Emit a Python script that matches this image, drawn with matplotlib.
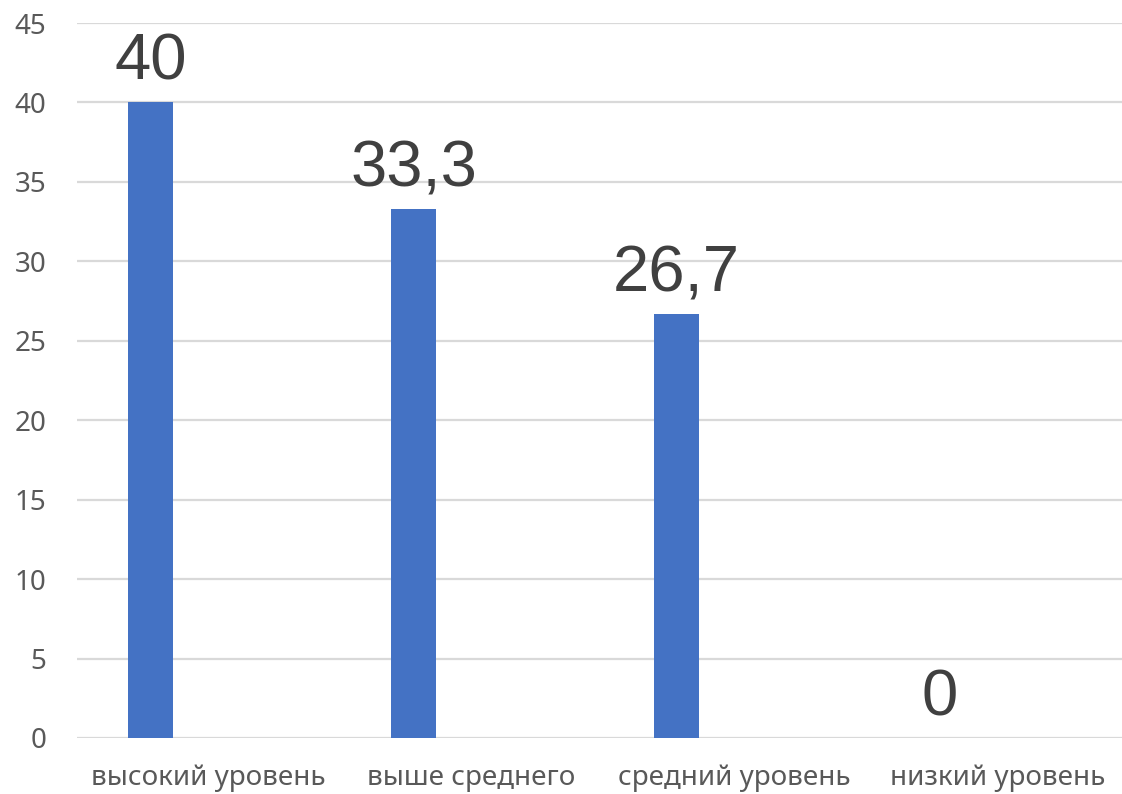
import matplotlib.pyplot as plt
import numpy as np

# Data
categories = ['высокий уровень', 'выше среднего', 'средний уровень', 'низкий уровень']
values = [40, 33.3, 26.7, 0]
value_labels = ['40', '33,3', '26,7', '0']
y_ticks = [0, 5, 10, 15, 20, 25, 30, 35, 40, 45]

fig = plt.figure(figsize=(11.22, 7.94), dpi=100)
ax = fig.add_axes([77 / 1122, 1 - 738 / 794, (1129 - 77) / 1122, (738 - 23) / 794])

x = np.arange(len(categories))
offset = -0.22
bars = ax.bar(x + offset, values, width=0.172, color='#4472c4', zorder=3)

# data labels above bars
for xi, v, lab in zip(x, values, value_labels):
    ax.annotate(lab, (xi + offset, v), xytext=(0, 7), textcoords='offset points',
                ha='center', va='bottom', fontsize=47, color='#404040',
                family='Liberation Sans')

ax.set_xlim(-0.5, 3.5)
ax.set_ylim(0, 45)
ax.set_yticks(y_ticks)
ax.set_xticks(x)
ax.set_xticklabels(categories)
ax.yaxis.grid(True, color='#d9d9d9', linewidth=1.6, zorder=0)
for s in ax.spines.values():
    s.set_visible(False)
ax.tick_params(axis='both', length=0, labelcolor='#595959', labelsize=20)
ax.tick_params(axis='y', pad=22)
ax.tick_params(axis='x', pad=19)
for t in ax.get_xticklabels() + ax.get_yticklabels():
    t.set_family('Noto Sans')

fig.savefig('out.png', dpi=100)
